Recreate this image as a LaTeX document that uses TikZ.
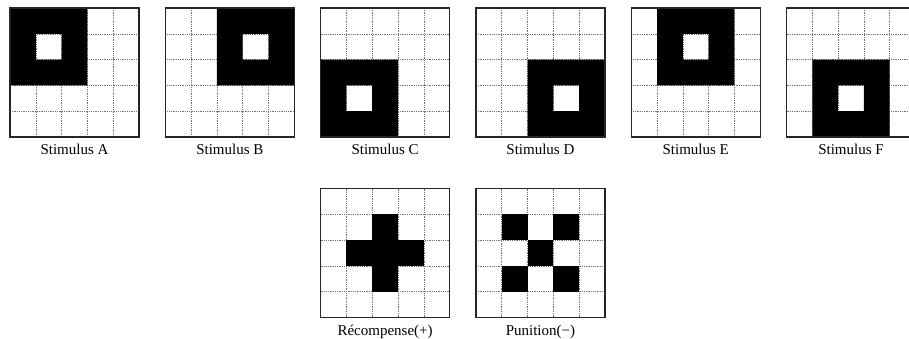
\documentclass[tikz,border=0pt]{standalone}
\usepackage{fontspec}
\setmainfont{Liberation Serif}
\tikzset{
 cellline/.style={black!55, line width=0.5pt, dash pattern=on 0.8pt off 1pt},
 frame/.style={draw=black!85, line width=1.2pt, minimum size=129pt, inner sep=0pt, outer sep=0pt, rectangle},
 lab/.style={font=\fontsize{15}{18}\selectfont, anchor=base, inner sep=0pt},
}
\newcommand\stimgrid[5]{%
 \begin{scope}[shift={(#1,#2)}]
  \foreach \k in {1,...,4}{
   \draw[cellline] (\k*25.8,0) -- (\k*25.8,129);
   \draw[cellline] (0,\k*25.8) -- (129,\k*25.8);}
  #4
  \node[frame] (#3) at (64.5,64.5) {};
  \node[lab] (#3-lab) at (64.5,147) {#5};
 \end{scope}}
\newcommand\ringfill[2]{\fill[black, even odd rule] ({#1*25.8},{#2*25.8}) rectangle ++(77.4,77.4) ({(#1+1)*25.8},{(#2+1)*25.8}) rectangle ++(25.8,25.8);}
\newcommand\cellfill[2]{\fill[black] ({#1*25.8},{#2*25.8}) rectangle ++(25.8,25.8);}
\begin{document}
\begin{tikzpicture}[x=1pt,y=-1pt]
\clip (0,0) rectangle (909,339);
\stimgrid{10}{8}{A}{\ringfill{0}{0}}{Stimulus A}
\stimgrid{165.3}{8}{B}{\ringfill{2}{0}}{Stimulus B}
\stimgrid{320.6}{8}{C}{\ringfill{0}{2}}{Stimulus C}
\stimgrid{475.9}{8}{D}{\ringfill{2}{2}}{Stimulus D}
\stimgrid{631.2}{8}{E}{\ringfill{1}{0}}{Stimulus E}
\stimgrid{786.5}{8}{F}{\ringfill{1}{2}}{Stimulus F}
\stimgrid{320.6}{188.5}{R}{\cellfill{2}{1}\cellfill{1}{2}\cellfill{2}{2}\cellfill{3}{2}\cellfill{2}{3}}{Récompense(+)}
\stimgrid{475.9}{188.5}{P}{\cellfill{1}{1}\cellfill{3}{1}\cellfill{2}{2}\cellfill{1}{3}\cellfill{3}{3}}{Punition(−)}
\end{tikzpicture}
\end{document}
